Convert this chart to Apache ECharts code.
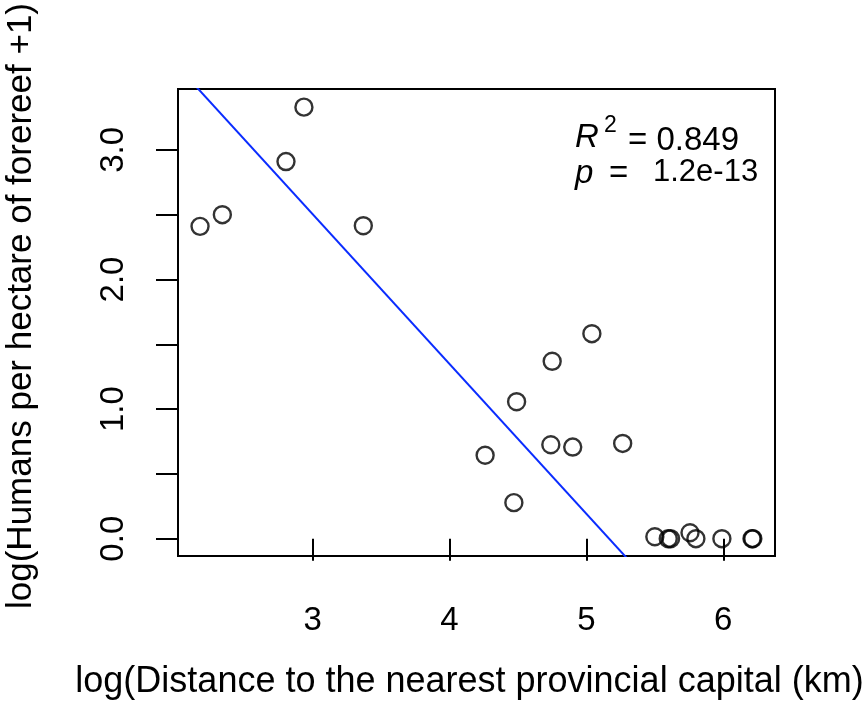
<!DOCTYPE html>
<html lang="en">
<head>
    <meta charset="UTF-8">
    <title>Humans vs distance to provincial capital</title>
    <script src="https://cdn.jsdelivr.net/npm/echarts@6.0.0/dist/echarts.min.js"></script>
    <style>
        html, body { margin: 0; padding: 0; background: #fff; }
    </style>
</head>
<body>
<div id="chart1" style="width: 866px;height:726px;"></div>

<script>
    // values
    var distLog = [2.177, 2.34, 2.805, 2.936, 3.37, 4.26, 4.47, 4.49, 4.74, 4.75,
                   4.90, 5.04, 5.265, 5.50, 5.598, 5.615, 5.757, 5.80, 5.99, 6.21, 6.216];
    var humansLog = [2.41, 2.50, 2.91, 3.33, 2.415, 0.644, 0.278, 1.057, 0.725, 1.369,
                     0.707, 1.582, 0.735, 0.015, 0.0, 0.0, 0.046, 0.0, 0.0, 0.0, 0.0];
    var xTicks = [3, 4, 5, 6];
    var yTicks = [0, 0.5, 1, 1.5, 2, 2.5, 3];
    var yLabels = [0, 1, 2, 3];
    var fitIntercept = 5.972;
    var fitSlope = -1.156;

    var xMin = 2.016, xMax = 6.378;
    var yMin = -0.1335, yMax = 3.47;

    var points = distLog.map(function (d, i) { return [d, humansLog[i]]; });
    var fitLine = [xMin, xMax].map(function (x) { return [x, fitIntercept + fitSlope * x]; });

    var font = '"Liberation Sans", Arial, Helvetica, sans-serif';

    var chartDom = document.getElementById('chart1');
    var myChart = echarts.init(chartDom);
    var option = {
        backgroundColor: '#fff',
        animation: false,
        grid: {
            left: 178,
            right: 91,
            top: 89,
            bottom: 170,
            outerBoundsMode: 'none',
            containLabel: false,
            show: true,
            borderColor: '#000',
            borderWidth: 2,
            backgroundColor: 'transparent'
        },
        xAxis: {
            type: 'value',
            min: xMin,
            max: xMax,
            name: 'log(Distance to the nearest provincial capital (km)',
            nameLocation: 'middle',
            nameGap: 108,
            nameTextStyle: { fontFamily: font, fontSize: 36, color: '#000', padding: [0, 14, 0, 0] },
            axisLine: { show: false },
            splitLine: { show: false },
            axisTick: {
                show: true,
                length: 22,
                customValues: xTicks,
                lineStyle: { color: '#000', width: 2 }
            },
            axisLabel: {
                customValues: xTicks,
                margin: 48,
                fontFamily: font,
                fontSize: 33,
                color: '#000'
            }
        },
        yAxis: {
            type: 'value',
            min: yMin,
            max: yMax,
            axisLine: { show: false },
            splitLine: { show: false },
            axisTick: {
                show: true,
                length: 22,
                customValues: yTicks,
                lineStyle: { color: '#000', width: 2 }
            },
            axisLabel: {
                customValues: yLabels,
                rotate: 90,
                margin: 48,
                fontFamily: font,
                fontSize: 33,
                color: '#000',
                formatter: function (v) { return v.toFixed(1); }
            }
        },
        graphic: [
            {
                type: 'text', x: 21, y: 306, rotation: Math.PI / 2,
                style: {
                    text: 'log(Humans per hectare of forereef +1)',
                    font: '35px ' + font, fill: '#000',
                    align: 'center', verticalAlign: 'middle'
                }
            },
            { type: 'text', left: 575, top: 121, style: { text: 'R', font: 'italic 33px ' + font, fill: '#000' } },
            { type: 'text', left: 604, top: 114, style: { text: '2', font: '23px ' + font, fill: '#000' } },
            { type: 'text', left: 628, top: 124, style: { text: '= 0.849', font: '33px ' + font, fill: '#000' } },
            { type: 'text', left: 575, top: 157, style: { text: 'p', font: 'italic 33px ' + font, fill: '#000' } },
            { type: 'text', left: 609, top: 157, style: { text: '=', font: '33px ' + font, fill: '#000' } },
            { type: 'text', left: 653, top: 157, style: { text: '1.2e-13', font: '31px ' + font, fill: '#000' } }
        ],
        series: [
            {
                type: 'line',
                data: fitLine,
                clip: true,
                symbol: 'none',
                lineStyle: { color: '#0a2cff', width: 2 },
                silent: true
            },
            {
                type: 'scatter',
                data: points,
                symbol: 'circle',
                symbolSize: 17,
                itemStyle: {
                    color: 'transparent',
                    borderColor: '#000',
                    borderWidth: 2.4
                }
            }
        ]
    };
    myChart.setOption(option);
</script>
</body>
</html>
